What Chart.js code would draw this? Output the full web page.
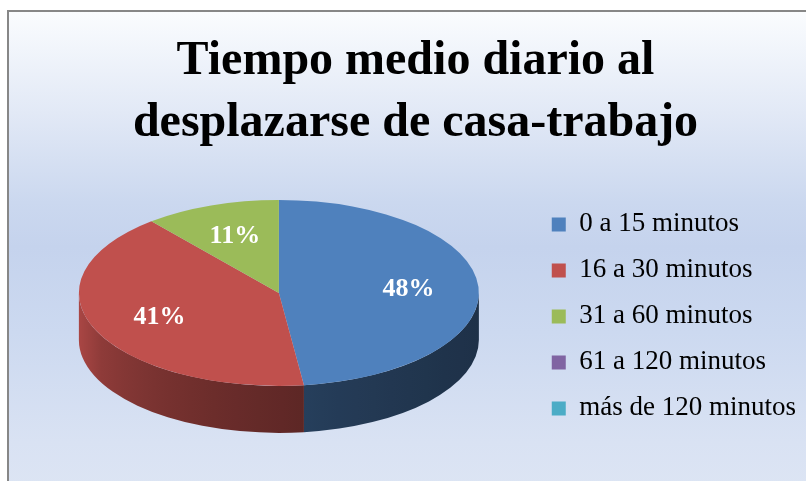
<!DOCTYPE html>
<html>
<head>
<meta charset="utf-8">
<script src="https://cdn.jsdelivr.net/npm/chart.js@4.4.0/dist/chart.umd.min.js"></script>
<style>
  html, body { margin: 0; padding: 0; background: #fff; overflow: hidden; }
  #marco {
    position: absolute; left: 7px; top: 10px; width: 830px; height: 500px;
    border-left: 2px solid #878787; border-top: 2px solid #878787;
    background: linear-gradient(to bottom, #fafcfe 0px, #e2e9f6 100px, #cbd8ef 190px, #c5d3ed 235px, #ccd9f0 320px, #d9e2f3 430px, #dee6f4 500px);
  }
  #grafico { position: absolute; left: 0; top: 0; }
</style>
</head>
<body>
<div id="marco"></div>
<canvas id="grafico" width="806" height="481"></canvas>
<script>
const titulo = ["Tiempo medio diario al", "desplazarse de casa-trabajo"];
const categorias = ["0 a 15 minutos", "16 a 30 minutos", "31 a 60 minutos", "61 a 120 minutos", "más de 120 minutos"];
const porcentajes = [48, 41, 11, 0, 0];
const colores = ["#4f81bd", "#c0504d", "#9bbb59", "#8064a2", "#4bacc6"];

// vista 3D: achatado vertical y grosor del pastel
const inclinacion = 0.465;
const grosor = 47;
const posEtiqueta = 0.65;

function sombra(hex, f) {
  const n = parseInt(hex.slice(1), 16);
  const r = Math.round(((n >> 16) & 255) * f);
  const g = Math.round(((n >> 8) & 255) * f);
  const b = Math.round((n & 255) * f);
  return "rgb(" + r + "," + g + "," + b + ")";
}

const pastel3d = {
  id: "pastel3d",
  beforeDatasetsDraw(chart) {
    const ctx = chart.ctx;
    const arcos = chart.getDatasetMeta(0).data;
    const cx = arcos[0].x;
    const R = arcos[0].outerRadius;
    const ry = R * inclinacion;
    const cy = arcos[0].y - grosor / 2;

    // lados (solo la mitad delantera)
    arcos.forEach((arco, i) => {
      const a = Math.max(arco.startAngle, 0);
      const b = Math.min(arco.endAngle, Math.PI);
      if (b <= a) return;
      const xa = cx + R * Math.cos(a);
      const xb = cx + R * Math.cos(b);
      const grad = ctx.createLinearGradient(xa, 0, xb, 0);
      for (let k = 0; k <= 10; k++) {
        const t = k / 10;
        const x = xa + (xb - xa) * t;
        const c = Math.max(-1, Math.min(1, (x - cx) / R));
        const ang = Math.acos(c);
        const f = 0.38 + 0.5 * Math.pow(ang / Math.PI, 2);
        grad.addColorStop(t, sombra(colores[i], f));
      }
      ctx.beginPath();
      ctx.ellipse(cx, cy, R, ry, 0, a, b);
      ctx.ellipse(cx, cy + grosor, R, ry, 0, b, a, true);
      ctx.closePath();
      ctx.fillStyle = grad;
      ctx.fill();
    });

    // caras superiores con los arcos de Chart.js
    ctx.save();
    ctx.translate(cx, cy);
    ctx.scale(1, inclinacion);
    ctx.translate(-cx, -arcos[0].y);
    arcos.forEach(arco => arco.draw(ctx));
    ctx.restore();

    // etiquetas de porcentaje
    ctx.save();
    ctx.font = "bold 26px 'Liberation Serif'";
    ctx.fillStyle = "#fff";
    ctx.textAlign = "center";
    ctx.textBaseline = "middle";
    arcos.forEach((arco, i) => {
      if (!porcentajes[i]) return;
      const medio = (arco.startAngle + arco.endAngle) / 2;
      const x = cx + Math.cos(medio) * R * posEtiqueta;
      const y = cy + Math.sin(medio) * ry * posEtiqueta;
      ctx.fillText(porcentajes[i] + "%", x, y);
    });
    ctx.restore();
    return false;
  }
};

const data = {
  labels: categorias,
  datasets: [{
    data: porcentajes,
    backgroundColor: colores,
    borderWidth: 0,
    radius: 200
  }]
};

const config = {
  type: "pie",
  data: data,
  options: {
    responsive: false,
    animation: false,
    events: [],
    layout: { padding: { left: 25, right: 0, top: 0, bottom: 9 } },
    plugins: {
      title: {
        display: true,
        text: titulo,
        color: "#000",
        font: { family: "Liberation Serif", size: 48, weight: "bold", lineHeight: 1.3 },
        padding: { top: 30, bottom: 6 }
      },
      legend: {
        position: "right",
        fullSize: false,
        labels: {
          color: "#000",
          font: { family: "Liberation Serif", size: 27 },
          boxWidth: 14,
          boxHeight: 14,
          padding: 19
        }
      },
      tooltip: { enabled: false }
    }
  },
  plugins: [pastel3d]
};

const myChart = new Chart(document.getElementById("grafico"), config);
</script>
</body>
</html>
